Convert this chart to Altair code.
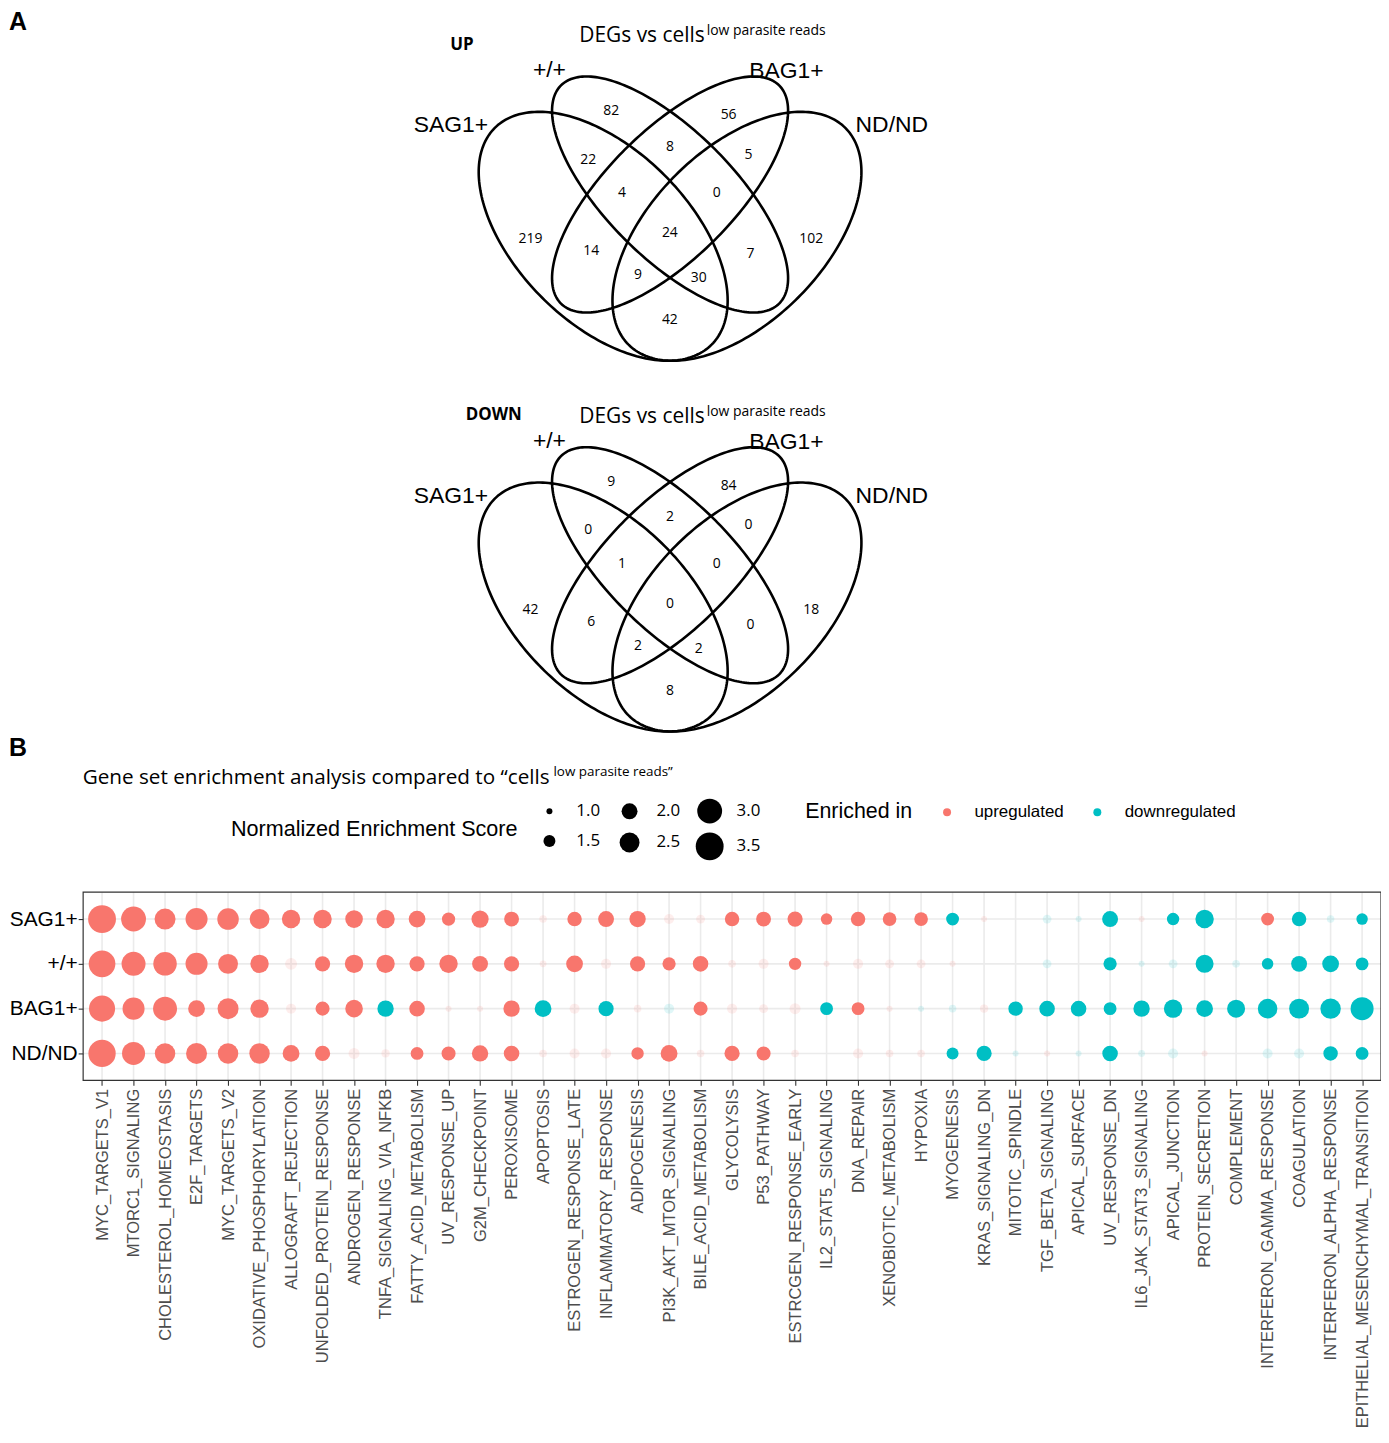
import altair as alt
import numpy as np
import pandas as pd

# ---------------- data ----------------
pathways = [
    "MYC_TARGETS_V1", "MTORC1_SIGNALING", "CHOLESTEROL_HOMEOSTASIS", "E2F_TARGETS",
    "MYC_TARGETS_V2", "OXIDATIVE_PHOSPHORYLATION", "ALLOGRAFT_REJECTION",
    "UNFOLDED_PROTEIN_RESPONSE", "ANDROGEN_RESPONSE", "TNFA_SIGNALING_VIA_NFKB",
    "FATTY_ACID_METABOLISM", "UV_RESPONSE_UP", "G2M_CHECKPOINT", "PEROXISOME",
    "APOPTOSIS", "ESTROGEN_RESPONSE_LATE", "INFLAMMATORY_RESPONSE", "ADIPOGENESIS",
    "PI3K_AKT_MTOR_SIGNALING", "BILE_ACID_METABOLISM", "GLYCOLYSIS", "P53_PATHWAY",
    "ESTRCGEN_RESPONSE_EARLY", "IL2_STAT5_SIGNALING", "DNA_REPAIR",
    "XENOBIOTIC_METABOLISM", "HYPOXIA", "MYOGENESIS", "KRAS_SIGNALING_DN",
    "MITOTIC_SPINDLE", "TGF_BETA_SIGNALING", "APICAL_SURFACE", "UV_RESPONSE_DN",
    "IL6_JAK_STAT3_SIGNALING", "APICAL_JUNCTION", "PROTEIN_SECRETION", "COMPLEMENT",
    "INTERFERON_GAMMA_RESPONSE", "COAGULATION", "INTERFERON_ALPHA_RESPONSE",
    "EPITHELIAL_MESENCHYMAL_TRANSITION",
]
samples = ["SAG1+", "+/+", "BAG1+", "ND/ND"]

nes_sag1 = [3.5, 3.0, 2.6, 2.7, 2.65, 2.5, 2.3, 2.3, 2.2, 2.3,
            2.1, 1.65, 2.15, 1.85, 1.1, 1.8, 2.0, 2.05, 1.3, 1.2,
            1.8, 1.85, 1.9, 1.45, 1.8, 1.7, 1.7, 1.6, 1.0, None,
            1.2, 1.0, 2.0, 1.0, 1.55, 2.3, None, 1.6, 1.8, 1.1, 1.45]
dir_sag1 = ["U"] * 27 + ["D", "U", "D", "D", "D", "D", "U", "D", "D", "D", "U", "D", "D", "D"]
sig_sag1 = [1, 1, 1, 1, 1, 1, 1, 1, 1, 1, 1, 1, 1, 1, 0, 1, 1, 1, 0, 0,
            1, 1, 1, 1, 1, 1, 1, 1, 0, 0, 0, 0, 1, 0, 1, 1, 0, 1, 1, 0, 1]

nes_wt = [3.3, 2.9, 2.85, 2.7, 2.5, 2.3, 1.5, 1.9, 2.3, 2.3,
          1.9, 2.3, 2.0, 1.9, 1.05, 2.1, 1.3, 1.9, 1.65, 1.95,
          1.1, 1.3, 1.55, 1.0, 1.3, 1.2, 1.2, 1.0, None, None,
          1.2, None, 1.65, 1.0, 1.2, 2.25, 1.1, 1.45, 2.0, 2.1, 1.6]
dir_wt = ["U"] * 30 + ["D"] * 11
sig_wt = [1, 1, 1, 1, 1, 1, 0, 1, 1, 1, 1, 1, 1, 1, 0, 1, 0, 1, 1, 1,
          0, 0, 1, 0, 0, 0, 0, 0, 0, 0, 0, 0, 1, 0, 0, 1, 0, 1, 1, 1, 1]

nes_bag1 = [3.2, 2.7, 2.9, 2.1, 2.6, 2.3, 1.3, 1.75, 2.2, 2.05,
            1.95, 1.0, 1.0, 2.05, 2.1, 1.3, 1.9, 1.1, 1.3, 1.75,
            1.3, 1.2, 1.4, 1.6, 1.6, 1.0, 1.0, 1.1, 1.15, 1.8,
            1.95, 1.95, 1.6, 2.05, 2.3, 2.1, 2.25, 2.45, 2.5, 2.55, 2.8]
dir_bag1 = ["U"] * 9 + ["D", "U", "U", "U", "U", "D", "U", "D", "U", "D", "U",
                        "U", "U", "U", "D", "U", "U", "D", "D", "U"] + ["D"] * 12
sig_bag1 = [1, 1, 1, 1, 1, 1, 0, 1, 1, 1, 1, 0, 0, 1, 1, 0, 1, 0, 0, 1,
            0, 0, 0, 1, 1, 0, 0, 0, 0, 1, 1, 1, 1, 1, 1, 1, 1, 1, 1, 1, 1]

nes_nd = [3.4, 2.8, 2.55, 2.6, 2.55, 2.55, 2.1, 1.9, 1.4, 1.15,
          1.6, 1.75, 2.05, 1.95, 1.1, 1.3, 1.3, 1.55, 2.1, 1.1,
          1.9, 1.75, 1.1, None, 1.3, 1.1, 1.1, 1.5, 1.9, 1.0,
          1.0, 1.0, 1.95, 1.05, 1.3, 1.0, None, 1.3, 1.3, 1.8, 1.6]
dir_nd = ["U"] * 27 + ["D", "D", "D", "U", "D", "D", "D", "D", "U", "D", "D", "D", "D", "D"]
sig_nd = [1, 1, 1, 1, 1, 1, 1, 1, 0, 0, 1, 1, 1, 1, 0, 0, 0, 1, 1, 0,
          1, 1, 0, 0, 0, 0, 0, 1, 1, 0, 0, 0, 1, 0, 0, 0, 0, 0, 0, 1, 1]

size_legend_values = [1.0, 2.0, 3.0, 1.5, 2.5, 3.5]
direction_names = {"U": "upregulated", "D": "downregulated"}

# Venn diagram counts (same region order for both diagrams)
venn_regions = ["+/+", "BAG1+", "+/+ & BAG1+", "BAG1+ & ND/ND", "SAG1+ & +/+",
                "SAG1+ & +/+ & BAG1+", "+/+ & BAG1+ & ND/ND", "SAG1+", "SAG1+ & BAG1+",
                "all", "+/+ & ND/ND", "ND/ND", "SAG1+ & BAG1+ & ND/ND",
                "SAG1+ & +/+ & ND/ND", "SAG1+ & ND/ND"]
up_counts = [82, 56, 8, 5, 22, 4, 0, 219, 14, 24, 7, 102, 9, 30, 42]
down_counts = [9, 84, 2, 0, 0, 1, 0, 42, 6, 0, 0, 18, 2, 2, 8]
set_names = ["+/+", "BAG1+", "SAG1+", "ND/ND"]

# ---------------- layout (pixel geometry of the page) ----------------
W, H = 1379.5, 1427.0
OX, OY = 8.0, 8.0
DY = 372.5  # vertical offset of the DOWN diagram
region_xy = [(614, 108), (732, 112), (673, 144), (752, 152), (591, 157), (625, 191),
             (720, 191), (533, 237), (594, 249), (673, 231), (754, 252), (815, 237),
             (641, 273), (702, 276), (673, 318)]
set_label_xy = [(552, 67), (790, 68), (453, 122), (896, 122)]
# ellipse shapes: cx, cy, semi-major, semi-minor, rotation (deg)
ellipses = {"+/+": (673.2, 192, 155, 64, 45), "BAG1+": (673.2, 192, 155, 64, 135),
            "SAG1+": (606, 234, 154, 87, 45), "ND/ND": (740.4, 234, 154, 87, 135)}

px = alt.Scale(domain=[OX, OX + W], nice=False, zero=False)
py = alt.Scale(domain=[OY, OY + H], nice=False, zero=False, reverse=True)
PL, PR, PT, PB = 75.5, W, 885.0, 1074.0  # dot-plot panel in chart pixels

# ---------------- Venn ----------------
rows = []
for name, (cx, cy, a, b, deg) in ellipses.items():
    t = np.linspace(0, 2 * np.pi, 241)
    th = np.radians(deg)
    ex = cx + a * np.cos(t) * np.cos(th) - b * np.sin(t) * np.sin(th)
    ey = cy + a * np.cos(t) * np.sin(th) + b * np.sin(t) * np.cos(th)
    for dname, off in (("UP", 0.0), ("DOWN", DY)):
        for i in range(len(t)):
            rows.append({"key": f"{dname}-{name}", "i": i, "x": ex[i], "y": ey[i] + off})
ell_df = pd.DataFrame(rows)

ell_layer = alt.Chart(ell_df).mark_line(color="black", strokeWidth=2.6).encode(
    x=alt.X("x:Q", scale=px, axis=None),
    y=alt.Y("y:Q", scale=py, axis=None),
    detail="key:N",
    order="i:Q",
)


def text_layer(df, **kw):
    return alt.Chart(df).mark_text(**kw).encode(
        x=alt.X("x:Q", scale=px, axis=None),
        y=alt.Y("y:Q", scale=py, axis=None),
        text="t:N",
    )


counts_df = pd.DataFrame(
    [{"x": xy[0], "y": xy[1], "t": str(c)} for xy, c in zip(region_xy, up_counts)]
    + [{"x": xy[0], "y": xy[1] + DY, "t": str(c)} for xy, c in zip(region_xy, down_counts)]
)
setlab_df = pd.DataFrame(
    [{"x": xy[0], "y": xy[1], "t": s} for xy, s in zip(set_label_xy, set_names)]
    + [{"x": xy[0], "y": xy[1] + DY, "t": s} for xy, s in zip(set_label_xy, set_names)]
)
vtitle_df = pd.DataFrame({"x": [582, 582], "y": [33, 416], "t": ["DEGs vs cells", "DEGs vs cells"]})
vsup_df = pd.DataFrame({"x": [710, 710], "y": [28, 411],
                        "t": ["low parasite reads", "low parasite reads"]})
updown_df = pd.DataFrame({"x": [464, 496], "y": [42, 414], "t": ["UP", "DOWN"]})
letters_df = pd.DataFrame({"x": [18, 18], "y": [19, 748], "t": ["A", "B"]})
btitle_df = pd.DataFrame({"x": [83], "y": [778],
                          "t": ["Gene set enrichment analysis compared to \u201ccells"]})
bsup_df = pd.DataFrame({"x": [556], "y": [772], "t": ["low parasite reads\u201d"]})

venn_layers = [
    ell_layer,
    text_layer(counts_df, font="Open Sans", fontSize=14, color="black"),
    text_layer(setlab_df, font="Liberation Sans", fontSize=23, color="black"),
    text_layer(vtitle_df, font="Open Sans", fontSize=21, color="black", align="left"),
    text_layer(vsup_df, font="Open Sans", fontSize=14, color="black", align="left"),
    text_layer(updown_df, font="Open Sans", fontSize=17, fontWeight="bold", color="black"),
    text_layer(letters_df, font="Liberation Sans", fontSize=25, fontWeight="bold", color="black"),
    text_layer(btitle_df, font="Open Sans", fontSize=20.8, color="black", align="left"),
    text_layer(bsup_df, font="Open Sans", fontSize=13.5, color="black", align="left"),
]

# ---------------- dot plot ----------------
recs = []
for s, nes, dr, sg in ((samples[0], nes_sag1, dir_sag1, sig_sag1),
                       (samples[1], nes_wt, dir_wt, sig_wt),
                       (samples[2], nes_bag1, dir_bag1, sig_bag1),
                       (samples[3], nes_nd, dir_nd, sig_nd)):
    for p, v, d, g in zip(pathways, nes, dr, sg):
        if v is None:
            continue
        recs.append({"pathway": p, "sample": s, "nes": v, "dir": direction_names[d],
                     "alpha": 1.0 if g else 0.12})
dots_df = pd.DataFrame(recs)

xcat = alt.Scale(type="point", domain=pathways, range=[PL, PR], padding=0.6)
ycat = alt.Scale(type="point", domain=samples, range=[PT, PB], padding=0.6)

vgrid = alt.Chart(pd.DataFrame({"pathway": pathways})).mark_rule(
    color="#EBEBEB", strokeWidth=1.6).encode(
    x=alt.X("pathway:N", scale=xcat, axis=None),
    y=alt.value(PT), y2=alt.value(PB))
hgrid = alt.Chart(pd.DataFrame({"sample": samples})).mark_rule(
    color="#EBEBEB", strokeWidth=1.6).encode(
    y=alt.Y("sample:N", scale=ycat, axis=None),
    x=alt.value(PL), x2=alt.value(PR))

dots = alt.Chart(dots_df).mark_circle(opacity=1).encode(
    x=alt.X("pathway:N", scale=xcat, axis=alt.Axis(
        title=None, labelAngle=270, labelFontSize=16.6, labelFont="Liberation Sans",
        labelColor="#4D4D4D", tickColor="#333333", tickSize=5, tickWidth=1.1,
        domain=False, grid=False, labelPadding=3, labelLimit=0, labelOverlap=False,
        offset=PB - H)),
    y=alt.Y("sample:N", scale=ycat, axis=alt.Axis(
        title=None, labelFontSize=21, labelFont="Liberation Sans", labelColor="black",
        tickColor="#333333", tickSize=5, tickWidth=1.1, domain=False, grid=False,
        labelPadding=1, offset=-PL)),
    size=alt.Size("nes:Q", scale=alt.Scale(domain=[1, 1.5, 2, 2.5, 3, 3.5],
                                            range=[36, 144, 256, 400, 625, 784]),
                  legend=alt.Legend(
                      title="Normalized Enrichment Score", orient="none",
                      legendX=224, legendY=791, direction="horizontal", columns=3,
                      values=size_legend_values, format=".1f", titleOrient="left",
                      titleAnchor="middle", titleBaseline="middle", titleLimit=0,
                      titleFontSize=21.7, titleFont="Liberation Sans",
                      titleFontWeight="normal", titleColor="black", titlePadding=17,
                      labelFontSize=17, labelFont="Open Sans", labelColor="black",
                      labelOffset=13, columnPadding=15.5, rowPadding=8,
                      symbolFillColor="black", symbolStrokeColor="black",
                      symbolStrokeWidth=0, symbolType="circle", symbolOpacity=1,
                      padding=0)),
    color=alt.Color("dir:N", scale=alt.Scale(domain=["upregulated", "downregulated"],
                                             range=["#F8766D", "#00BFC4"]),
                    legend=alt.Legend(
                        title="Enriched in", orient="none", legendX=801, legendY=796,
                        direction="horizontal", titleOrient="left", titleLimit=0,
                        titleAnchor="middle", titleBaseline="middle",
                        titleFontSize=21.5, titleFont="Liberation Sans",
                        titleFontWeight="normal", titleColor="black", titlePadding=26,
                        labelFontSize=17, labelFont="Liberation Sans", labelColor="black",
                        labelOffset=19, columnPadding=25, symbolSize=64,
                        symbolType="circle", symbolOpacity=1, symbolStrokeWidth=0,
                        padding=0)),
    opacity=alt.Opacity("alpha:Q", scale=None),
)

border = alt.Chart(pd.DataFrame({"k": [0]})).mark_rect(
    filled=False, stroke="#333333", strokeWidth=1.2).encode(
    x=alt.value(PL), x2=alt.value(PR), y=alt.value(PT), y2=alt.value(PB))

chart = alt.layer(*venn_layers, vgrid, hgrid, dots, border).resolve_scale(
    x="independent", y="independent"
).properties(
    width=W, height=H, padding=0, autosize=alt.AutoSizeParams(type="none"),
    background="white",
).configure_view(stroke=None)

chart.save("out.html", embed_options={"renderer": "svg", "actions": False})
